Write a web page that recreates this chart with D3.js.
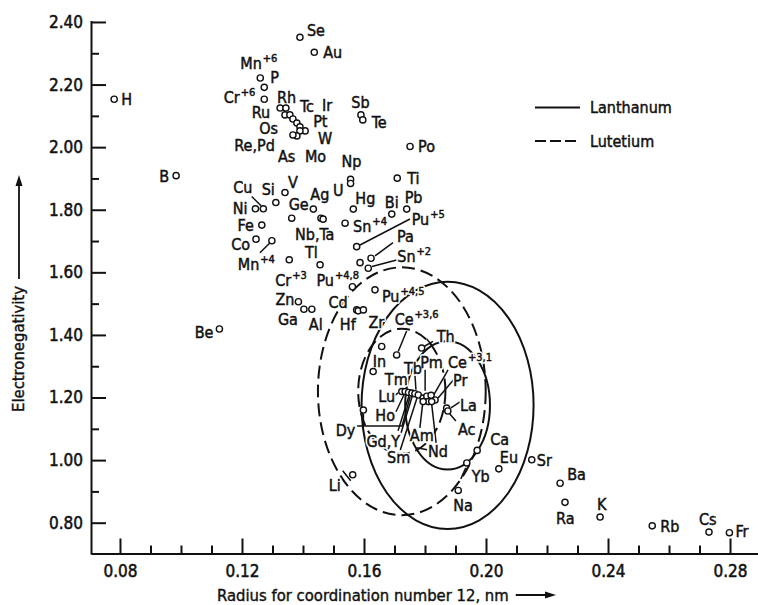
<!DOCTYPE html>
<html><head><meta charset="utf-8">
<script src="https://cdn.jsdelivr.net/npm/d3@7"></script>
<style>
body{margin:0;background:#fff;}
svg{display:block;font-family:"DejaVu Sans Condensed","DejaVu Sans",sans-serif;}
</style></head><body>
<svg id="c" width="758" height="605" xmlns:xlink="http://www.w3.org/1999/xlink"></svg>
<script>
// ---------- DATA ----------
const elements = ["H","B","Be","Se","Au","Mn+6","P","Cr+6","Ru","Rh","Os","Re","Pd","Tc","Ir","Pt","W","Mo","As",
 "Sb","Te","Po","Np","U","Ti","V","Si","Cu","Ni","Fe","Co","Mn+4","Cr+3","Ge","Ag","Nb","Ta","Hg","Sn+4","Bi","Pb",
 "Pu+5","Pa","Pu","Sn+2","Tl","Pu+4,8","Pu+4,5","Zn","Ga","Al","Cd","Hf","Zr","Ce+3,6","Th","In","Tm","Dy",
 "Lu","Ho","Y","Gd","Tb","Sm","Am","Pm","Nd","Pr","Ce+3,1","Er","Eu+2","La","Ac","Ca","Yb","Eu","Sr","Ba","Ra","K","Rb","Cs","Fr","Na","Li"];
const radius = [0.0781,0.0984,0.1126,0.1390,0.1437,0.1260,0.1273,0.1273,0.1325,0.1344,0.1341,0.1357,0.1367,0.1380,0.1390,0.1407,0.1390,0.1380,0.1367,
 0.1590,0.1596,0.1751,0.1556,0.1556,0.1709,0.1341,0.1311,0.1270,0.1244,0.1265,0.1246,0.1298,0.1355,0.1363,0.1434,0.1459,0.1466,0.1565,0.1538,0.1691,0.1740,
 0.1576,0.1623,0.1587,0.1614,0.1456,0.1562,0.1636,0.1385,0.1403,0.1429,0.1576,0.1581,0.1598,0.1707,0.1789,0.1658,0.1630,0.1598,
 0.1724,0.1735,0.1746,0.1757,0.1767,0.1778,0.1794,0.1806,0.1820,0.1833,0.1811,0.1794,0.1822,0.1871,0.1875,0.1971,0.1937,0.2042,0.2150,0.2243,0.2259,0.2374,0.2545,0.2731,0.2798,0.1909,0.1563];
const electronegativity = [2.153,1.909,1.419,2.351,2.303,2.221,2.191,2.153,2.125,2.125,2.103,2.103,2.090,2.077,2.065,2.052,2.052,2.036,2.039,
 2.103,2.087,2.002,1.897,1.884,1.901,1.855,1.823,1.803,1.803,1.751,1.706,1.701,1.640,1.773,1.802,1.773,1.770,1.802,1.757,1.786,1.802,
 1.682,1.645,1.631,1.613,1.624,1.554,1.544,1.506,1.482,1.482,1.480,1.477,1.480,1.336,1.358,1.363,1.283,1.160,
 1.219,1.219,1.216,1.214,1.212,1.208,1.198,1.204,1.207,1.192,1.187,1.187,1.187,1.166,1.157,1.031,0.991,0.972,1.001,0.926,0.865,0.818,0.790,0.770,0.768,0.903,0.953];

// Darken-Gurry ellipses (centre and half-axes in data units)
const ellipseSeries = ["Lanthanum","Lanthanum","Lutetium","Lutetium"];
const ellipseCentreR = [0.1874,0.1874,0.1724,0.1724];
const ellipseCentreEN = [1.175,1.175,1.220,1.220];
const ellipseHalfR = [0.0282,0.0139,0.0275,0.0143];
const ellipseHalfEN = [0.395,0.205,0.396,0.20];

const xMajor = [0.08,0.12,0.16,0.20,0.24,0.28];
const xMinor = [0.09,0.10,0.11,0.13,0.14,0.15,0.17,0.18,0.19,0.21,0.22,0.23,0.25,0.26,0.27];
const yMajor = [0.80,1.00,1.20,1.40,1.60,1.80,2.00,2.20,2.40];
const yMinor = [0.90,1.10,1.30,1.50,1.70,1.90,2.10,2.30];
const legendNames = ["Lanthanum","Lutetium"];

// ---------- LAYOUT (label placement in px relative to each point) ----------
const labelText = {"Re":"Re,Pd","Pd":"","Nb":"Nb,Ta","Ta":"","Gd":"Gd,Y","Y":"","Pu":"","Er":"","Eu+2":""};
const labelPos = {
 "H":[7,6,"s"],"B":[-7,6,"e"],"Be":[-6,9,"e"],"Se":[7,-1,"s"],"Au":[9,6,"s"],"Mn+6":[-20,-9,"s"],"P":[6,-4,"s"],
 "Cr+6":[-9,4,"e"],"Rh":[-9,-5.5,"s"],"Tc":[3,-11.5,"s"],"Ir":[22,-15.5,"s"],"Ru":[-10,9.5,"e"],"Pt":[8,-4,"s"],
 "Os":[-7,19,"e"],"W":[18,13.5,"s"],"Re":[-15,36,"e"],"As":[-15,27,"s"],"Mo":[8,26,"s"],"Sb":[-9.6,-7,"s"],
 "Te":[9,8,"s"],"Po":[8,5.5,"s"],"Np":[-9,-12,"s"],"U":[-7,13,"e"],"Ti":[10,5.5,"s"],"V":[3,-5,"s"],"Si":[-1,-7.7,"e"],
 "Cu":[-11,-16,"e"],"Ni":[-8,5.5,"e"],"Fe":[-8,5.5,"e"],"Co":[-6,10.5,"e"],"Mn+4":[3,29,"e"],"Cr+3":[-14,26,"s"],
 "Ge":[-3,-8,"s"],"Ag":[-3,-9,"s"],"Nb":[-26,22,"s"],"Sn+4":[8,9,"s"],"Hg":[2,-5,"s"],"Bi":[-7,-6,"s"],"Pb":[-2,-6,"s"],
 "Pu+5":[55,-22,"s"],"Pa":[26,-16,"s"],"Sn+2":[29,-6,"s"],"Tl":[-15,-7,"s"],"Pu+4,8":[-36,-1,"s"],"Pu+4,5":[7,12,"s"],
 "Zn":[-4,3,"e"],"Ga":[-6,16,"e"],"Al":[-3,21,"s"],"Cd":[-9,-2,"e"],"Hf":[-2.5,19,"e"],"Zr":[5,18,"s"],
 "Ce+3,6":[-2,-30,"s"],"Th":[15,-6,"s"],"In":[-9,20,"s"],"Tm":[11.7,13.3,"s"],"Dy":[-8,26,"e"],"Lu":[-6.7,10.8,"e"],
 "Ho":[-10.2,29.2,"e"],"Gd":[-11.8,53.7,"e"],"Tb":[-11,-20,"s"],"Sm":[-31.3,68,"s"],"Am":[-13.3,42.7,"s"],
 "Pm":[-6.7,-28.5,"s"],"Nd":[-3,61.5,"s"],"Pr":[18,-14.5,"s"],"Ce+3,1":[19.7,-33.2,"s"],"La":[13.3,2.7,"s"],"Ac":[10,24,"s"],
 "Ca":[13,-5.5,"s"],"Yb":[5,19,"s"],"Eu":[1,-6,"s"],"Sr":[5,6,"s"],"Ba":[7,-3,"s"],"Ra":[-9,22,"s"],"K":[-3,-7,"s"],
 "Rb":[8,6,"s"],"Cs":[-10,-7,"s"],"Fr":[6,4,"s"],"Na":[-5,20.5,"s"],"Li":[-12,16,"e"]
};
const leaders = [
 ["Cu",[[-11.6,-12.3],[-2.3,-3]]],["Mn+4",[[-12,12],[-2,2.3]]],["Pu+5",[[53.3,-27.7],[3.3,-1.7]]],
 ["Pa",[[22,-15.6],[4,-2.3]]],["Sn+2",[[28.4,-8.3],[3.7,-1.8]]],["Ce+3,6",[[10,-24],[1.6,-3.5]]],
 ["Th",[[11.3,-6.6],[2.8,-1.8]]],["Th",[[5,-9],[10,-3.3]]],["Lu",[[-8.7,5.3],[-3.7,1.3]]],
 ["La",[[4.3,-0.3],[13.3,-6.3]]],["Ac",[[2,3],[8,10]]],["Tb",[[0,-19],[1,-4]]],["Pm",[[-1.7,-26.5],[-1.7,-5.5]]],
 ["Ce+3,1",[[19.7,-31.7],[3.7,-3.7]]],["Pr",[[20,-22],[3,-2]]],["Ho",[[-9.2,20.2],[-1.2,3.2]]],
 ["Y",[[-10.5,38.3],[0.5,3.3]]],["Gd",[[-10.8,39.7],[0.2,3.7]]],["Sm",[[-18,55],[-1.3,3]]],
 ["Am",[[-3.3,29.7],[-0.3,3.7]]],["Nd",[[5,47.5],[0,3.5]]],["Nd",[[-14,52.5],[-4,54.5]]],
 ["Dy",[[-6.3,16],[38.7,16],[46.7,-13]]],["Dy",[[0,3.5],[0,16]]],["Li",[[-10,-4],[-2,6]]],["Yb",[[-1,5],[-6,16]]]
];

// ---------- CHART ----------
const INK = "#111";
const svg = d3.select("#c");
const x = d3.scaleLinear().domain([0.0705,0.2895]).range([91,759]);
const y = d3.scaleLinear().domain([0.70,2.405]).range([554,20.4]);
const X0 = 553.5, Y0 = 91;

function styleAxis(g){
  g.attr("font-family",null).attr("font-size",null);
  g.selectAll("path,line").attr("stroke",INK).attr("stroke-width",2);
  g.selectAll("text").attr("fill",INK).attr("font-size",17).attr("stroke",INK).attr("stroke-width",0.5);
}
svg.append("g").attr("transform",`translate(0,${X0})`)
  .call(d3.axisBottom(x).tickValues(xMajor).tickSize(-15).tickSizeOuter(0).tickPadding(11).tickFormat(d3.format(".2f")))
  .call(styleAxis);
svg.append("g").attr("transform",`translate(0,${X0})`)
  .call(d3.axisBottom(x).tickValues(xMinor).tickSize(-8).tickFormat(""))
  .call(styleAxis).call(g=>g.select(".domain").remove());
svg.append("g").attr("transform",`translate(${Y0},0)`)
  .call(d3.axisLeft(y).tickValues(yMajor).tickSize(-15).tickSizeOuter(0).tickPadding(8).tickFormat(d3.format(".2f")))
  .call(styleAxis);
svg.append("g").attr("transform",`translate(${Y0},0)`)
  .call(d3.axisLeft(y).tickValues(yMinor).tickSize(-8).tickFormat(""))
  .call(styleAxis).call(g=>g.select(".domain").remove());

// ellipses
const ell = ellipseSeries.map((s,i)=>({s,cr:ellipseCentreR[i],ce:ellipseCentreEN[i],hr:ellipseHalfR[i],he:ellipseHalfEN[i]}));
svg.append("g").selectAll("ellipse").data(ell).join("ellipse")
  .attr("cx",d=>x(d.cr)).attr("cy",d=>y(d.ce))
  .attr("rx",d=>x(d.cr+d.hr)-x(d.cr)).attr("ry",d=>y(d.ce-d.he)-y(d.ce))
  .attr("fill","none").attr("stroke",INK).attr("stroke-width",2)
  .attr("stroke-dasharray",d=>d.s==="Lutetium"?"13,6":null);

// points
const pts = elements.map((n,i)=>({n,r:radius[i],e:electronegativity[i],px:x(radius[i]),py:y(electronegativity[i])}));
const byName = {}; pts.forEach(p=>byName[p.n]=p);

// leaders
svg.append("g").selectAll("polyline").data(leaders).join("polyline")
  .attr("points",d=>{const p=byName[d[0]];return d[1].map(o=>[p.px+o[0],p.py+o[1]].join(",")).join(" ");})
  .attr("fill","none").attr("stroke",INK).attr("stroke-width",1.5);

// labels: halo layer (clones via <use>) under the real text layer
const halo = svg.append("g").attr("fill","#fff").attr("stroke","#fff").attr("stroke-width",3.5).attr("stroke-linejoin","round");
const lg = svg.append("g").attr("font-size",16).attr("fill",INK).attr("stroke",INK).attr("stroke-width",0.45);
pts.forEach((p,i)=>{
  const txt = (p.n in labelText)? labelText[p.n] : p.n;
  if(!txt || !labelPos[p.n]) return;
  const lp = labelPos[p.n];
  const m = txt.match(/^([A-Za-z,]+)(\+[\d,]+)?$/);
  const id = "lbl"+i;
  const t = lg.append("text").attr("id",id).attr("x",p.px+lp[0]).attr("y",p.py+lp[1])
    .attr("text-anchor",lp[2]==="e"?"end":"start").attr("font-size",16);
  t.append("tspan").text(m[1]);
  if(m[2]) t.append("tspan").attr("font-size",11).attr("dy",-7).attr("dx",1).text(m[2]);
  halo.append("use").attr("href","#"+id);
});

// circles
svg.append("g").selectAll("circle").data(pts).join("circle")
  .attr("cx",d=>d.px).attr("cy",d=>d.py).attr("r",3.1)
  .attr("fill","#fff").attr("stroke",INK).attr("stroke-width",1.4);

// legend
const leg = svg.append("g");
legendNames.forEach((n,i)=>{
  const ly = i===0?107.5:141;
  leg.append("line").attr("x1",535).attr("x2",580).attr("y1",ly).attr("y2",ly)
    .attr("stroke",INK).attr("stroke-width",2).attr("stroke-dasharray",n==="Lutetium"?"11,4":null);
  leg.append("text").attr("x",590).attr("y",ly+5.5).attr("font-size",16).attr("fill",INK)
    .attr("stroke",INK).attr("stroke-width",0.45).text(n);
});

// axis titles with arrows
const xt = svg.append("text").attr("x",217).attr("y",601).attr("font-size",16.5).attr("fill",INK)
  .attr("stroke",INK).attr("stroke-width",0.4).text("Radius for coordination number 12, nm");
const xe = 217 + xt.node().getComputedTextLength();
svg.append("line").attr("x1",xe+7).attr("x2",548).attr("y1",595).attr("y2",595).attr("stroke",INK).attr("stroke-width",1.8);
svg.append("path").attr("d","M556,595 L545,591.5 L545,598.5 Z").attr("fill",INK);

const yt = svg.append("text").attr("transform","translate(24,412) rotate(-90)").attr("font-size",16.5).attr("fill",INK)
  .attr("stroke",INK).attr("stroke-width",0.4).text("Electronegativity");
const ye = 412 - yt.node().getComputedTextLength();
svg.append("line").attr("x1",19).attr("x2",19).attr("y1",ye-7).attr("y2",183).attr("stroke",INK).attr("stroke-width",1.8);
svg.append("path").attr("d","M19,175 L15.5,186 L22.5,186 Z").attr("fill",INK);
</script>
</body></html>
